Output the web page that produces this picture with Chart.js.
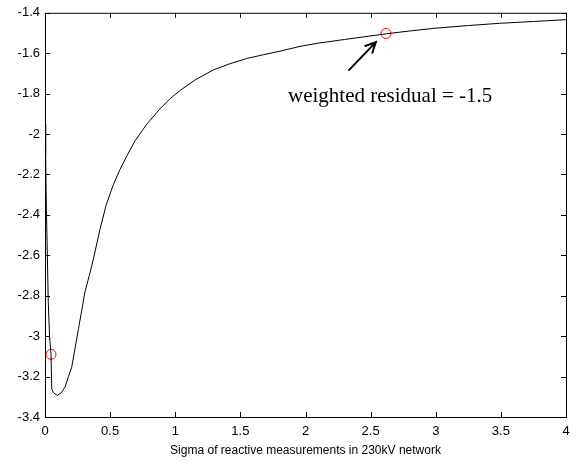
<!DOCTYPE html>
<html>
<head>
<meta charset="utf-8">
<script src="https://cdn.jsdelivr.net/npm/chart.js@4/dist/chart.umd.min.js"></script>
<style>
  html, body { margin: 0; padding: 0; background: #fff; }
  canvas { display: block; }
</style>
</head>
<body>
<canvas id="chart" width="579" height="466"></canvas>
<script>
// curve
var sigmaValues = [0, 0.005, 0.01, 0.018, 0.025, 0.035, 0.046, 0.052, 0.065, 0.094, 0.125, 0.154, 0.18, 0.205,
  0.256, 0.28, 0.307, 0.34, 0.371, 0.422, 0.47, 0.525, 0.576, 0.627, 0.69, 0.781, 0.883, 0.96, 1.036, 1.15, 1.292,
  1.42, 1.549, 1.68, 1.804, 1.958, 2.1, 2.3, 2.618, 2.8, 3.0, 3.25, 3.49, 3.75, 4.0];
var residualValues = [-1.95, -2.1, -2.35, -2.6, -2.83, -3.0, -3.09, -3.26, -3.28, -3.293, -3.28, -3.252, -3.2, -3.154,
  -2.967, -2.88, -2.78, -2.7, -2.62, -2.472, -2.35, -2.25, -2.175, -2.11, -2.035, -1.951, -1.875, -1.825, -1.785, -1.733, -1.683,
  -1.652, -1.626, -1.607, -1.59, -1.566, -1.55, -1.532, -1.504, -1.49, -1.476, -1.463, -1.452, -1.443, -1.434];

// marked points (red circles)
var markSigma = [0.046, 2.618];
var markResidual = [-3.09, -1.502];

var xTicks = [0, 0.5, 1, 1.5, 2, 2.5, 3, 3.5, 4];
var yTicks = [-3.4, -3.2, -3, -2.8, -2.6, -2.4, -2.2, -2, -1.8, -1.6, -1.4];
var xTickLabels = ['0', '0.5', '1', '1.5', '2', '2.5', '3', '3.5', '4'];
var yTickLabels = ['-3.4', '-3.2', '-3', '-2.8', '-2.6', '-2.4', '-2.2', '-2', '-1.8', '-1.6', '-1.4'];

// annotation
var noteText = 'weighted residual = -1.5';
var noteAt = [1.866, -1.839];
var arrowFrom = [2.33, -1.686];
var arrowTo = [2.54, -1.545];

var curve = sigmaValues.map(function (s, i) { return { x: s, y: residualValues[i] }; });
var marks = markSigma.map(function (s, i) { return { x: s, y: markResidual[i] }; });

var frameAndTicks = {
  id: 'frameAndTicks',
  afterDraw: function (chart) {
    var ctx = chart.ctx, a = chart.chartArea;
    var xs = chart.scales.x, ys = chart.scales.y;
    ctx.save();
    ctx.strokeStyle = '#000';
    ctx.lineWidth = 1;
    ctx.strokeRect(a.left + 0.5, a.top + 0.5, a.right - a.left, a.bottom - a.top);
    ctx.beginPath();
    xTicks.forEach(function (v) {
      var px = Math.round(xs.getPixelForValue(v)) + 0.5;
      ctx.moveTo(px, a.bottom); ctx.lineTo(px, a.bottom - 5);
      ctx.moveTo(px, a.top); ctx.lineTo(px, a.top + 5);
    });
    yTicks.forEach(function (v) {
      var py = Math.round(ys.getPixelForValue(v)) + 0.5;
      ctx.moveTo(a.left, py); ctx.lineTo(a.left + 5, py);
      ctx.moveTo(a.right, py); ctx.lineTo(a.right - 5, py);
    });
    ctx.stroke();

    // arrow + text
    var x1 = xs.getPixelForValue(arrowFrom[0]), y1 = ys.getPixelForValue(arrowFrom[1]);
    var x2 = xs.getPixelForValue(arrowTo[0]), y2 = ys.getPixelForValue(arrowTo[1]);
    var ang = Math.atan2(y2 - y1, x2 - x1);
    ctx.lineWidth = 2;
    ctx.beginPath();
    ctx.moveTo(x1, y1); ctx.lineTo(x2, y2);
    ctx.moveTo(x2 - 12 * Math.cos(ang - 0.45), y2 - 12 * Math.sin(ang - 0.45));
    ctx.lineTo(x2, y2);
    ctx.lineTo(x2 - 12 * Math.cos(ang + 0.45), y2 - 12 * Math.sin(ang + 0.45));
    ctx.stroke();

    ctx.fillStyle = '#000';
    ctx.font = '21px "Liberation Serif", serif';
    ctx.textBaseline = 'alphabetic';
    ctx.textAlign = 'left';
    ctx.fillText(noteText, xs.getPixelForValue(noteAt[0]), ys.getPixelForValue(noteAt[1]));
    ctx.restore();
  }
};

new Chart(document.getElementById('chart'), {
  type: 'scatter',
  data: {
    datasets: [
      {
        data: curve,
        showLine: true,
        borderColor: '#000',
        borderWidth: 1,
        pointRadius: 0,
        tension: 0,
        fill: false
      },
      {
        data: marks,
        showLine: false,
        borderColor: '#ff0000',
        backgroundColor: 'rgba(0,0,0,0)',
        borderWidth: 1,
        pointRadius: 5
      }
    ]
  },
  options: {
    responsive: false,
    animation: false,
    devicePixelRatio: 1,
    layout: { padding: { top: 7, right: 13, left: 0, bottom: 0 } },
    plugins: {
      legend: { display: false },
      tooltip: { enabled: false }
    },
    scales: {
      x: {
        type: 'linear',
        min: 0,
        max: 4,
        afterBuildTicks: function (s) { s.ticks = xTicks.map(function (v) { return { value: v }; }); },
        afterFit: function (s) { s.height = 49; },
        grid: { display: false, drawTicks: false },
        border: { display: false },
        ticks: {
          padding: 7,
          color: '#000',
          maxRotation: 0,
          font: { family: '"Liberation Sans", Arial', size: 13 },
          callback: function (v) { return xTickLabels[xTicks.indexOf(v)]; }
        },
        title: {
          display: true,
          text: 'Sigma of reactive measurements in 230kV network',
          color: '#000',
          font: { family: '"Liberation Sans", Arial', size: 12 },
          padding: { top: 0, bottom: 8 }
        }
      },
      y: {
        type: 'linear',
        min: -3.4,
        max: -1.4,
        afterBuildTicks: function (s) { s.ticks = yTicks.map(function (v) { return { value: v }; }); },
        afterFit: function (s) { s.width = 45; },
        grid: { display: false, drawTicks: false },
        border: { display: false },
        ticks: {
          padding: 5,
          color: '#000',
          font: { family: '"Liberation Sans", Arial', size: 13 },
          callback: function (v) { return yTickLabels[yTicks.indexOf(v)]; }
        }
      }
    }
  },
  plugins: [frameAndTicks]
});
</script>
</body>
</html>
